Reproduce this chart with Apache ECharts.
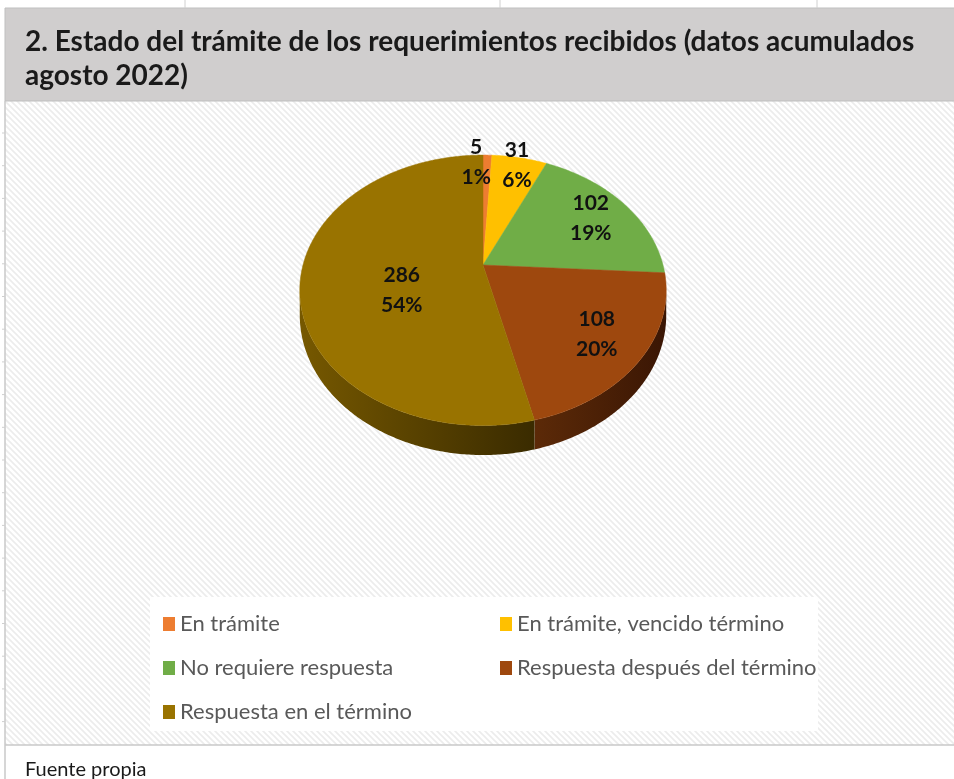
<!DOCTYPE html>
<html>
<head>
<meta charset="utf-8">
<script src="https://cdn.jsdelivr.net/npm/echarts@6/dist/echarts.min.js"></script>
<style>
html,body{margin:0;padding:0;background:#fff;}
#main{width:954px;height:779px;}
</style>
</head>
<body>
<div id="main"></div>
<script>
// ---- data ----
var categories = ['En trámite', 'En trámite, vencido término', 'No requiere respuesta', 'Respuesta después del término', 'Respuesta en el término'];
var values = [5, 31, 102, 108, 286];
var colors = ['#ED7D31', '#FFC000', '#70AD47', '#9E480E', '#997300'];
var sideColors = [['#a8531d', '#7a3d12'], ['#b38600', '#806000'], ['#4e7a31', '#375622'], ['#5c2a08', '#3a1604'], ['#765800', '#3a2b00']];
var titleText = '2. Estado del trámite de los requerimientos recibidos (datos acumulados\nagosto 2022)';
var footerText = 'Fuente propia';

var FONT = 'Lato, "Liberation Sans", "Noto Sans", sans-serif';

// ---- pie geometry (perspective) ----
var CX = 483, CY = 265, A = 180, B = 130.5, K = 0.187, DEPTH = 24;
var total = values.reduce(function (s, v) { return s + v; }, 0);
var starts = [];
(function () { var c = 0; for (var i = 0; i < values.length; i++) { starts.push(c); c += values[i]; } })();
function proj(r, phi) {
  var X = r * Math.sin(phi), Z = r * Math.cos(phi);
  var p = 1 / (1 + K * Z);
  return [CX + A * X * p, CY - B * Z * p, p];
}
var PHI_R = Math.acos(-K), PHI_L = 2 * Math.PI - Math.acos(-K);

function renderSlice(params, api) {
  var i = params.seriesIndex;
  var v = api.value(0);
  var a1 = starts[i] / total * 2 * Math.PI;
  var a2 = a1 + v / total * 2 * Math.PI;
  var children = [];
  // side wall
  var s1 = Math.max(a1, PHI_R), s2 = Math.min(a2, PHI_L);
  if (s2 > s1) {
    var topPts = [], botPts = [];
    var n = Math.max(2, Math.ceil((s2 - s1) / 0.01));
    for (var j = 0; j <= n; j++) {
      var ph = s1 + (s2 - s1) * j / n;
      var q = proj(1, ph);
      topPts.push([q[0], q[1]]);
      botPts.push([q[0], q[1] + DEPTH * q[2]]);
    }
    var pts = topPts.concat(botPts.reverse());
    children.push({
      type: 'polygon',
      shape: { points: pts },
      style: {
        fill: new echarts.graphic.LinearGradient(0, 0, 1, 0, [
          { offset: 0, color: sideColors[i][0] }, { offset: 1, color: sideColors[i][1] }
        ]),
        stroke: null
      }
    });
  }
  // top face
  var face = [[CX, CY]];
  var m = Math.max(2, Math.ceil((a2 - a1) / 0.01));
  for (var t = 0; t <= m; t++) {
    var q2 = proj(1, a1 + (a2 - a1) * t / m);
    face.push([q2[0], q2[1]]);
  }
  children.push({ type: 'polygon', shape: { points: face }, style: { fill: colors[i], stroke: colors[i], lineWidth: 0.5 } });
  // label
  var share = v / total;
  var mid = (a1 + a2) / 2;
  var lr = share < 0.1 ? 0.92 : (share > 0.5 ? 0.45 : 0.75);
  var lp = proj(lr, mid);
  if (share > 0.5) lp[1] += 18;
  if (share < 0.02) lp[0] -= 11;
  children.push({
    type: 'text',
    style: {
      text: v + '\n' + Math.round(share * 100) + '%',
      x: lp[0], y: lp[1],
      align: 'center', verticalAlign: 'middle',
      fontSize: 21, fontWeight: 'bold', fontFamily: FONT,
      lineHeight: 30, fill: '#111'
    },
    z2: 10
  });
  return { type: 'group', children: children };
}

// ---- hatch pattern ----
var pat = document.createElement('canvas');
pat.width = 6; pat.height = 6;
(function () {
  var c = pat.getContext('2d');
  c.fillStyle = '#ffffff'; c.fillRect(0, 0, 6, 6);
  c.strokeStyle = '#ececec'; c.lineWidth = 1.6;
  c.beginPath();
  c.moveTo(-1, -1); c.lineTo(7, 7);
  c.moveTo(-4, 2); c.lineTo(4, 10);
  c.moveTo(2, -4); c.lineTo(10, 4);
  c.stroke();
})();

var graphics = [
  { type: 'rect', shape: { x: 5, y: 101, width: 949, height: 644 }, style: { fill: { image: pat, repeat: 'repeat' } }, z: -10 },
  { type: 'rect', shape: { x: 150, y: 597, width: 668, height: 134 }, style: { fill: '#ffffff' }, z: -9 },
  { type: 'rect', shape: { x: 5, y: 8, width: 960, height: 93 }, style: { fill: '#d0cece', stroke: '#bfbfbf', lineWidth: 1 }, z: -8 },
  { type: 'line', shape: { x1: 5, y1: 101, x2: 5, y2: 779 }, style: { stroke: '#c8c8c8', lineWidth: 1.5 }, z: -7 },
  { type: 'line', shape: { x1: 5, y1: 745, x2: 954, y2: 745 }, style: { stroke: '#c8c8c8', lineWidth: 1.5 }, z: -7 },
  { type: 'text', style: { text: footerText, x: 25, y: 770, verticalAlign: 'middle', fontSize: 20, fontFamily: FONT, fill: '#1a1a1a' } }
];
[185, 500, 817].forEach(function (x) {
  graphics.push({ type: 'line', shape: { x1: x, y1: 0, x2: x, y2: 8 }, style: { stroke: '#d0d0d0', lineWidth: 1 }, z: -7 });
});
for (var yy = 133; yy < 745; yy += 32.7) {
  graphics.push({ type: 'line', shape: { x1: 2, y1: yy, x2: 5, y2: yy }, style: { stroke: '#cfcfcf', lineWidth: 1 }, z: -7 });
}

var series = categories.map(function (name, i) {
  return {
    type: 'custom',
    name: name,
    coordinateSystem: 'none',
    renderItem: renderSlice,
    itemStyle: { color: colors[i] },
    data: [values[i]],
    silent: true,
    animation: false
  };
});

var legendCommon = {
  orient: 'vertical', icon: 'rect', itemWidth: 12, itemHeight: 14,
  itemGap: 22,
  textStyle: { fontSize: 22, color: '#595959', fontFamily: FONT },
  selectedMode: false
};

var option = {
  animation: false,
  title: {
    text: titleText, left: 20, top: 20,
    textStyle: { fontSize: 28, fontWeight: 'bold', color: '#1a1a1a', fontFamily: FONT, lineHeight: 34 }
  },
  legend: [
    Object.assign({}, legendCommon, { left: 158, top: 608, data: [categories[0], categories[2], categories[4]] }),
    Object.assign({}, legendCommon, { left: 495, top: 608, data: [categories[1], categories[3]] })
  ],
  graphic: graphics,
  series: series
};

var chart = echarts.init(document.getElementById('main'));
chart.setOption(option);
</script>
</body>
</html>
